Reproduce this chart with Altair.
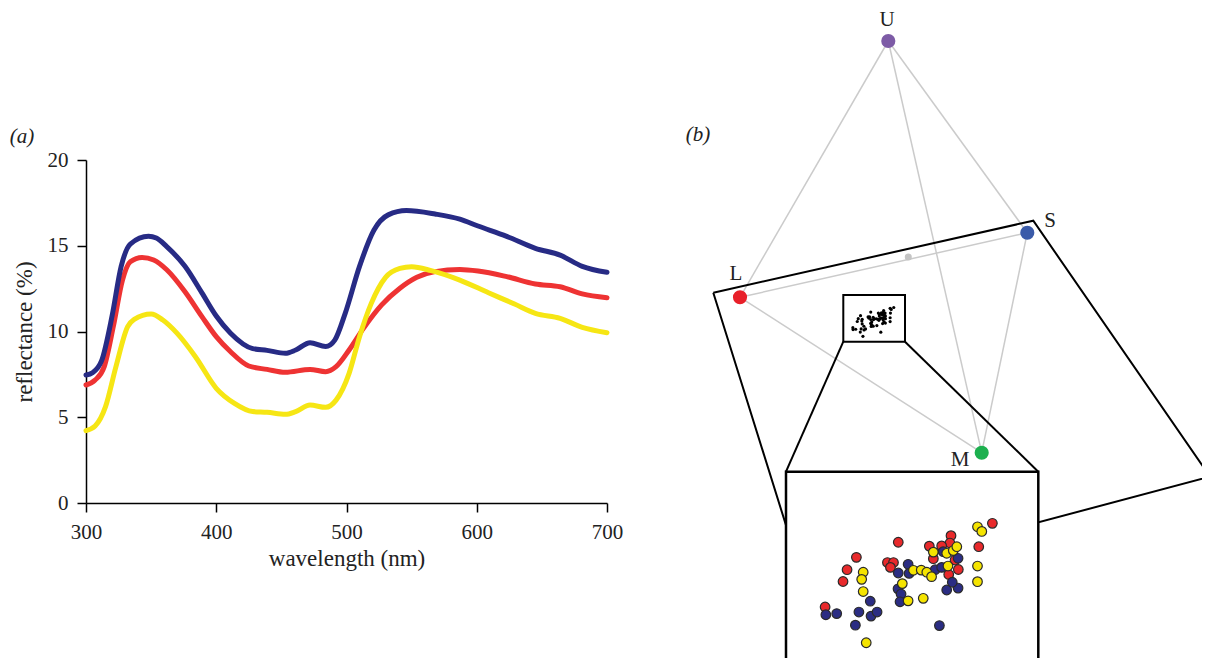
import altair as alt
import pandas as pd

# ---------------- panel (a): reflectance spectra ----------------
blue_wl = [300, 305, 312, 320, 327, 334, 348, 354, 362, 376, 389, 400, 411, 428, 439, 453, 461,
           472, 484, 491, 499, 510, 521, 532, 546, 568, 587, 601, 623, 645, 664, 681, 700]
blue_refl = [7.46, 7.6, 8.3, 10.9, 13.8, 15.1, 15.55, 15.45, 14.95, 13.8, 12.25, 10.9, 9.9, 9.0, 8.9,
             8.73, 8.92, 9.35, 9.12, 9.5, 11.06, 13.8, 15.9, 16.8, 17.05, 16.85, 16.55, 16.15, 15.55,
             14.85, 14.45, 13.8, 13.45]
red_wl = [300, 307, 314, 321, 328, 334, 343, 352, 362, 376, 389, 400, 411, 425, 439, 453, 472, 484,
          492, 502, 513, 527, 541, 554, 568, 587, 601, 623, 645, 664, 681, 700]
red_refl = [6.88, 7.17, 7.95, 10.3, 13.0, 14.07, 14.32, 14.17, 13.6, 12.32, 10.87, 9.7, 8.82, 7.99,
            7.79, 7.62, 7.79, 7.66, 7.95, 8.92, 10.18, 11.55, 12.52, 13.16, 13.49, 13.62, 13.53,
            13.2, 12.77, 12.61, 12.19, 11.97]
yellow_wl = [300, 307, 315, 323, 332, 337, 350, 359, 370, 384, 400, 414, 428, 439, 453, 461, 472, 484,
             492, 502, 510, 519, 530, 541, 550, 565, 587, 609, 629, 645, 664, 681, 700]
yellow_refl = [4.22, 4.49, 5.62, 7.95, 10.28, 10.71, 11.02, 10.67, 9.89, 8.53, 6.69, 5.81, 5.33, 5.29,
               5.17, 5.33, 5.71, 5.58, 6.0, 7.56, 9.7, 11.64, 13.16, 13.68, 13.78, 13.55, 13.0, 12.26,
               11.6, 11.06, 10.77, 10.24, 9.93]
spectra_colors = {"red": "#ee3333", "yellow": "#f6e614", "blue": "#272b85"}
x_ticks = [300, 400, 500, 600, 700]
y_ticks = [0, 5, 10, 15, 20]

# ---------------- panel (b): tetrahedral colour space ----------------
vertex_names = ["U", "S", "L", "M"]
vertex_x = [37.66, 65.46, 8.0, 56.34]
vertex_y = [125.0, 86.66, 73.74, 42.66]
vertex_colors = ["#7d5ba6", "#3b5ba9", "#e8202a", "#1db04f"]
label_x = [37.4, 70.0, 7.2, 52.0]
label_y = [129.3, 89.0, 78.4, 41.2]
achromatic_x = [41.66]
achromatic_y = [81.8]
edge_from = ["U", "U", "U", "L", "L", "S"]
edge_to = ["L", "S", "M", "S", "M", "M"]
plane_x = [2.66, 66.66, 102.0, 20.9]
plane_y = [74.66, 89.06, 37.86, 16.32]
small_box = [28.66, 41.0, 64.86, 74.2]      # x0, x1, y0, y1
inset_box = [17.2, 67.66, 0.2, 38.86]       # x0, x1, y0, y1

# inset scatter (inset-local units 0-100)
red_u = [81.8, 65.4, 65.0, 44.5, 56.8, 61.7, 76.4, 58.4, 67.0, 68.3, 64.5, 40.2, 42.6, 41.4, 27.9, 24.2, 22.6, 15.5]
red_v = [73.3, 66.9, 63.1, 63.5, 61.5, 61.6, 61.2, 55.0, 54.3, 49.4, 46.8, 53.0, 53.0, 50.5, 55.7, 49.3, 43.2, 30.0]
blue_u = [15.8, 20.1, 28.9, 33.7, 36.1, 33.4, 27.5, 48.4, 44.5, 48.8, 44.4, 45.6, 45.2, 60.8, 63.7, 68.2, 65.9, 68.2, 62.3, 59.1, 61.7]
blue_v = [26.0, 26.6, 27.4, 25.3, 27.4, 33.0, 20.6, 52.1, 47.6, 47.4, 39.4, 36.7, 32.7, 20.4, 38.8, 39.8, 42.8, 55.2, 58.6, 49.3, 50.5]
yellow_u = [75.9, 77.6, 75.9, 75.9, 58.4, 63.7, 66.3, 67.7, 64.2, 30.6, 30.0, 30.6, 46.1, 48.4, 54.4, 31.8, 50.5, 53.6, 55.8, 57.7]
yellow_v = [71.5, 69.1, 51.2, 43.1, 58.4, 57.8, 59.2, 61.2, 51.2, 48.0, 44.3, 38.0, 42.1, 33.2, 34.5, 11.5, 49.0, 49.1, 48.0, 45.7]
scatter_colors = {"red": "#e8292b", "blue": "#2b2d83", "yellow": "#f5e400"}

# panel labels
panel_a = {"label": "(a)", "wl": 250.9, "refl": 21.34}
panel_b = {"label": "(b)", "x": -0.4, "y": 106.2}

# ---------------- layout ----------------
W, H = 1194, 650
SERIF = "Liberation Serif"


def lin(domain, rng):
    return alt.Scale(domain=domain, range=rng, nice=False, zero=False)


spec_x = lin([300, 700], [78, 599])
spec_y = lin([0, 20], [495, 152])


def dpx(v):
    return 692 + 5 * v


def dpy(v):
    return 658 - 5 * v


dia_x = lin([0, 100], [dpx(0), dpx(100)])
dia_y = lin([0, 100], [dpy(0), dpy(100)])
inset_x = lin([0, 100], [dpx(inset_box[0]), dpx(inset_box[1])])
inset_y = lin([0, 100], [dpy(inset_box[2]), dpy(inset_box[3])])
small_x = lin([0, 100], [dpx(small_box[0]), dpx(small_box[1])])
small_y = lin([0, 100], [dpy(small_box[2]), dpy(small_box[3])])

# ---- spectra data ----
rows = []
for name, wl, rf in [("red", red_wl, red_refl), ("yellow", yellow_wl, yellow_refl), ("blue", blue_wl, blue_refl)]:
    for w, r in zip(wl, rf):
        rows.append({"wl": w, "refl": r, "series": name, "color": spectra_colors[name]})
spec_df = pd.DataFrame(rows)

axis_common = dict(
    domainColor="black", domainWidth=1.5, tickColor="black", tickWidth=1.5, tickSize=9,
    labelFont=SERIF, labelFontSize=21, labelColor="#222", labelPadding=9,
    titleFont=SERIF, titleFontSize=23, titleFontWeight="normal", titleColor="#222",
    grid=False, labelFlush=False, labelOverlap=False,
)

spec_layers = []
for i, name in enumerate(["red", "yellow", "blue"]):
    if i == 0:
        xa = alt.Axis(orient="bottom", offset=-(H - 495), values=x_ticks, title="wavelength (nm)",
                      titlePadding=5, **axis_common)
        ya = alt.Axis(orient="left", offset=-78, values=y_ticks, title="reflectance (%)",
                      titlePadding=11, **axis_common)
    else:
        xa = None
        ya = None
    spec_layers.append(
        alt.Chart(spec_df).transform_filter(alt.datum.series == name)
        .mark_line(strokeWidth=5, interpolate="monotone", strokeCap="round")
        .encode(
            x=alt.X("wl:Q", scale=spec_x, axis=xa),
            y=alt.Y("refl:Q", scale=spec_y, axis=ya),
            color=alt.Color("color:N", scale=None),
        )
    )

panel_a_layer = alt.Chart(pd.DataFrame([panel_a])).mark_text(
    font=SERIF, fontSize=21, fontStyle="italic", align="center", baseline="middle", color="#222"
).encode(
    x=alt.X("wl:Q", scale=spec_x, axis=None),
    y=alt.Y("refl:Q", scale=spec_y, axis=None),
    text="label:N",
)

# ---- diagram data ----
vpos = {n: (x, y) for n, x, y in zip(vertex_names, vertex_x, vertex_y)}
edge_df = pd.DataFrame([
    {"x": vpos[a][0], "y": vpos[a][1], "x2": vpos[b][0], "y2": vpos[b][1]}
    for a, b in zip(edge_from, edge_to)
])
plane_df = pd.DataFrame({
    "x": plane_x + [plane_x[0]],
    "y": plane_y + [plane_y[0]],
    "i": list(range(len(plane_x) + 1)),
})
zoom_df = pd.DataFrame({
    "x": [small_box[0], small_box[1]],
    "y": [small_box[2], small_box[2]],
    "x2": [inset_box[0], inset_box[1]],
    "y2": [inset_box[3], inset_box[3]],
})
small_df = pd.DataFrame([{"x": small_box[0], "x2": small_box[1], "y": small_box[2], "y2": small_box[3]}])
inset_df = pd.DataFrame([{"x": inset_box[0], "x2": inset_box[1], "y": inset_box[2], "y2": inset_box[3]}])

srows = []
for name, us, vs in [("red", red_u, red_v), ("blue", blue_u, blue_v), ("yellow", yellow_u, yellow_v)]:
    for u, v in zip(us, vs):
        srows.append({"u": u, "v": v, "color": scatter_colors[name]})
scatter_df = pd.DataFrame(srows)

vertex_df = pd.DataFrame({"name": vertex_names, "x": vertex_x, "y": vertex_y, "color": vertex_colors,
                          "lx": label_x, "ly": label_y})
achro_df = pd.DataFrame({"x": achromatic_x, "y": achromatic_y})


def dxy(xf="x", yf="y"):
    return dict(x=alt.X(f"{xf}:Q", scale=dia_x, axis=None), y=alt.Y(f"{yf}:Q", scale=dia_y, axis=None))


edges = alt.Chart(edge_df).mark_rule(color="#cbcbcb", strokeWidth=1.5).encode(
    **dxy(), x2="x2:Q", y2="y2:Q")
plane = alt.Chart(plane_df).mark_line(color="black", strokeWidth=2, strokeJoin="miter").encode(
    **dxy(), order="i:Q")
zoom_lines = alt.Chart(zoom_df).mark_rule(color="black", strokeWidth=2).encode(
    **dxy(), x2="x2:Q", y2="y2:Q")
small_rect = alt.Chart(small_df).mark_rect(fill="white", stroke="black", strokeWidth=2).encode(
    **dxy(), x2="x2:Q", y2="y2:Q")
small_dots = alt.Chart(scatter_df).mark_circle(size=10, color="black", opacity=1).encode(
    x=alt.X("u:Q", scale=small_x, axis=None), y=alt.Y("v:Q", scale=small_y, axis=None))
inset_rect = alt.Chart(inset_df).mark_rect(fill="white", stroke="black", strokeWidth=2.5).encode(
    **dxy(), x2="x2:Q", y2="y2:Q")
inset_pts = alt.Chart(scatter_df).mark_circle(size=92, stroke="#2a2a2a", strokeWidth=1.2, opacity=1).encode(
    x=alt.X("u:Q", scale=inset_x, axis=None), y=alt.Y("v:Q", scale=inset_y, axis=None),
    fill=alt.Fill("color:N", scale=None))
achro = alt.Chart(achro_df).mark_circle(size=50, color="#c4c4c4", opacity=1).encode(**dxy())
vertices = alt.Chart(vertex_df).mark_circle(size=200, opacity=1).encode(
    **dxy(), fill=alt.Fill("color:N", scale=None))
vlabels = alt.Chart(vertex_df).mark_text(font=SERIF, fontSize=21, align="center", baseline="middle",
                                         color="#222").encode(**dxy("lx", "ly"), text="name:N")
panel_b_layer = alt.Chart(pd.DataFrame([panel_b])).mark_text(
    font=SERIF, fontSize=21, fontStyle="italic", align="center", baseline="middle", color="#222"
).encode(**dxy(), text="label:N")

chart = alt.layer(
    *spec_layers, panel_a_layer,
    edges, plane, zoom_lines, small_rect, small_dots, inset_rect, inset_pts,
    achro, vertices, vlabels, panel_b_layer,
).resolve_scale(x="independent", y="independent").properties(
    width=W, height=H, autosize=alt.AutoSizeParams(type="none"), padding=0,
).configure_view(stroke=None)

chart.save("out.html", embed_options={"renderer": "svg", "actions": False})
